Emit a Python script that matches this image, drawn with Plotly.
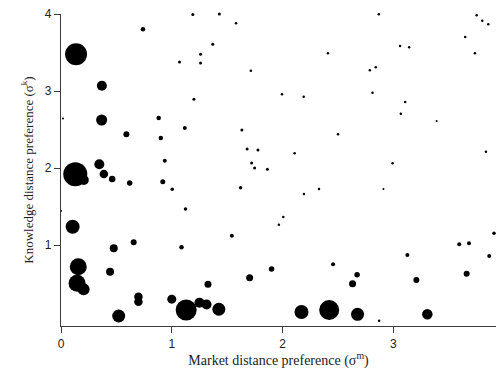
import plotly.graph_objects as go

# Market distance preference (sigma^m)
market_pref = [
    1.19, 1.43, 1.58, 0.74, 0.136, 1.26, 1.37, 1.07, 1.26, 0.369,
    1.20, 0.018, 0.367, 0.882, 1.118, 1.633, 0.590, 0.901, 1.680, 0.937,
    0.346, 0.129, 0.206, 0.387, 0.462, 0.620, 0.919, 1.004, 1.621,
    2.869, 3.752, 3.803, 3.857, 3.649, 3.061, 3.143, 3.737, 2.410, 1.714,
    2.788, 2.842, 1.995, 2.191, 2.812, 3.107, 3.068, 3.391, 2.501, 1.778,
    2.109, 1.721, 1.748, 1.863, 3.836, 2.993, 2.329, 2.911,
    0.0, 1.124, 0.105, 1.542, 0.656, 0.476, 1.088, 0.156, 0.443, 0.145,
    0.204, 1.703, 1.327, 0.699, 0.699, 1.000, 1.130, 1.250, 1.314, 1.425,
    0.521, 2.193, 2.007, 1.967, 3.909, 3.595, 3.683, 3.127, 3.866, 2.456,
    1.901, 2.673, 2.632, 3.662, 3.208, 2.171, 2.421, 2.677, 3.307, 2.872,
]

# Knowledge distance preference (sigma^k)
knowledge_pref = [
    3.995, 4.000, 3.879, 3.802, 3.477, 3.477, 3.607, 3.377, 3.364, 3.070,
    2.894, 2.645, 2.625, 2.651, 2.521, 2.495, 2.441, 2.392, 2.249, 2.097,
    2.051, 1.921, 1.847, 1.925, 1.860, 1.808, 1.825, 1.728, 1.747,
    3.996, 3.983, 3.913, 3.866, 3.702, 3.585, 3.568, 3.490, 3.490, 3.265,
    3.270, 3.309, 2.958, 2.927, 2.979, 2.859, 2.707, 2.612, 2.440, 2.236,
    2.193, 2.067, 2.003, 1.986, 2.214, 2.064, 1.730, 1.730,
    1.445, 1.471, 1.241, 1.125, 1.039, 0.961, 0.974, 0.722, 0.658, 0.507,
    0.429, 0.580, 0.494, 0.333, 0.268, 0.301, 0.161, 0.256, 0.232, 0.170,
    0.083, 1.665, 1.367, 1.267, 1.156, 1.013, 1.026, 0.874, 0.861, 0.754,
    0.693, 0.619, 0.502, 0.632, 0.550, 0.135, 0.161, 0.105, 0.106, 0.022,
]

# Bubble weight (drawn as marker diameter)
point_weight = [
    3, 3, 2.5, 4.5, 22, 3, 3, 3, 3, 10,
    3, 2, 11, 4.5, 4, 3, 6, 4.5, 3, 4,
    10, 24, 10, 8.5, 6.5, 5.5, 5, 3.5, 3.5,
    2.5, 2.5, 2.5, 2.5, 2.5, 2.5, 2.5, 2.5, 2.5, 2.5,
    2.5, 2.5, 2.5, 2.5, 2.5, 2.5, 2.5, 2, 2.5, 3,
    2.5, 3, 3, 3, 2.5, 2.5, 2.5, 2,
    2, 3.5, 14, 4, 6, 8, 4.5, 17, 8, 17,
    12, 7, 7, 8.5, 8.5, 9, 21, 10, 10, 13,
    13, 2.5, 2.5, 2.5, 3.5, 4, 4, 4, 4, 4,
    5.5, 5.5, 7, 6, 6, 14, 20, 13, 10.5, 2.5,
]

x_ticks = [0, 1, 2, 3]
y_ticks = [1, 2, 3, 4]

fig = go.Figure(
    go.Scatter(
        x=market_pref,
        y=knowledge_pref,
        mode="markers",
        marker=dict(size=point_weight, sizemode="diameter", color="black",
                    opacity=1, line=dict(width=0)),
        cliponaxis=False,
        hoverinfo="x+y",
    )
)

axis_common = dict(
    showgrid=False,
    zeroline=False,
    showline=True,
    linecolor="#3a3a3a",
    linewidth=1.2,
    ticks="outside",
    ticklen=6,
    tickwidth=1.2,
    tickcolor="#3a3a3a",
    tickfont=dict(family="Liberation Sans, Arial, sans-serif", size=12, color="#222222"),
)

fig.update_layout(
    width=496,
    height=372,
    margin=dict(l=61, r=0, t=14, b=46),
    paper_bgcolor="white",
    plot_bgcolor="white",
    showlegend=False,
    xaxis=dict(
        range=[0, 3.927],
        tickvals=x_ticks,
        title=dict(text="Market distance preference (σ<sup>m</sup>)", standoff=4,
                   font=dict(family="Liberation Serif, Times New Roman, serif", size=14, color="#222222")),
        **axis_common,
    ),
    yaxis=dict(
        range=[-0.047, 4.0],
        tickvals=y_ticks,
        title=dict(text="Knowledge distance preference (σ<sup>k</sup>)", standoff=8,
                   font=dict(family="Liberation Serif, Times New Roman, serif", size=13, color="#222222")),
        **axis_common,
    ),
)

fig.write_html("out.html")
